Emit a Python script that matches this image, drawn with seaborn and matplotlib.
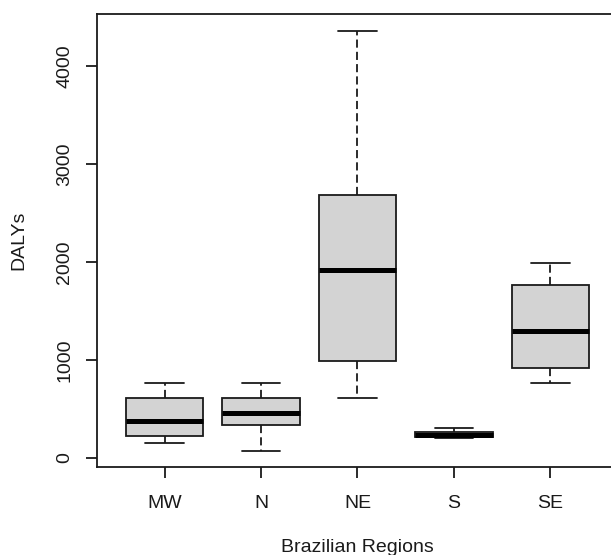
import numpy as np
import pandas as pd
import matplotlib
matplotlib.use("Agg")
import matplotlib.pyplot as plt
import seaborn as sns

# Five-number summaries: min, Q1, median, Q3, max
regions = ["MW", "N", "NE", "S", "SE"]
mw = [153, 228, 381, 612, 765]
n = [75, 340, 459, 612, 765]
ne = [609, 993, 1915, 2680, 4360]
s = [207, 212, 238, 265, 303]
se = [768, 915, 1299, 1762, 1993]
yticks = [0, 1000, 2000, 3000, 4000]

df = pd.DataFrame({
    "region": np.repeat(regions, 5),
    "DALYs": mw + n + ne + s + se,
})

sns.set_style("white")
plt.rcParams["font.family"] = ["Liberation Sans", "DejaVu Sans"]

fig = plt.figure(figsize=(6.11, 5.55), dpi=100)
W, H = 611, 555
ax = fig.add_axes([97 / W, (H - 467) / H, 521 / W, (467 - 14) / H])

lw = 1.3
sns.boxplot(
    data=df, x="region", y="DALYs", order=regions, ax=ax,
    whis=np.inf, width=0.8, color="#D3D3D3", saturation=1,
    linecolor="black", linewidth=lw, fliersize=0,
    boxprops=dict(facecolor="#D3D3D3", edgecolor="#1a1a1a"),
    medianprops=dict(color="black", linewidth=3.6, solid_capstyle="butt"),
    whiskerprops=dict(color="#1a1a1a", linestyle=(0, (4.5, 2.3))),
    capprops=dict(color="#1a1a1a"),
)

ax.set_xlim(-0.7, 4.7)
ax.set_ylim(-92, 4531)
ax.set_yticks(yticks)
ax.set_yticklabels([str(v) for v in yticks], rotation=90, va="center")

for side in ["left", "bottom", "top", "right"]:
    ax.spines[side].set_visible(True)
    ax.spines[side].set_color("#1a1a1a")
    ax.spines[side].set_linewidth(lw)

fs = 14
ax.tick_params(axis="both", which="both", direction="out", length=8,
               width=lw, color="#1a1a1a", labelsize=fs, labelcolor="#1a1a1a",
               left=True, bottom=True)
ax.tick_params(axis="x", pad=12)
ax.tick_params(axis="y", pad=9)

ax.set_xlabel("Brazilian Regions", fontsize=fs, color="#1a1a1a")
ax.set_ylabel("DALYs", fontsize=fs, color="#1a1a1a")
ax.xaxis.set_label_coords(357 / W, 1 - 547 / H, transform=fig.transFigure)
ax.xaxis.label.set_verticalalignment("center")
ax.yaxis.set_label_coords(19 / W, 1 - 240 / H, transform=fig.transFigure)
ax.yaxis.label.set_verticalalignment("center")

fig.savefig("out.png", dpi=100)
